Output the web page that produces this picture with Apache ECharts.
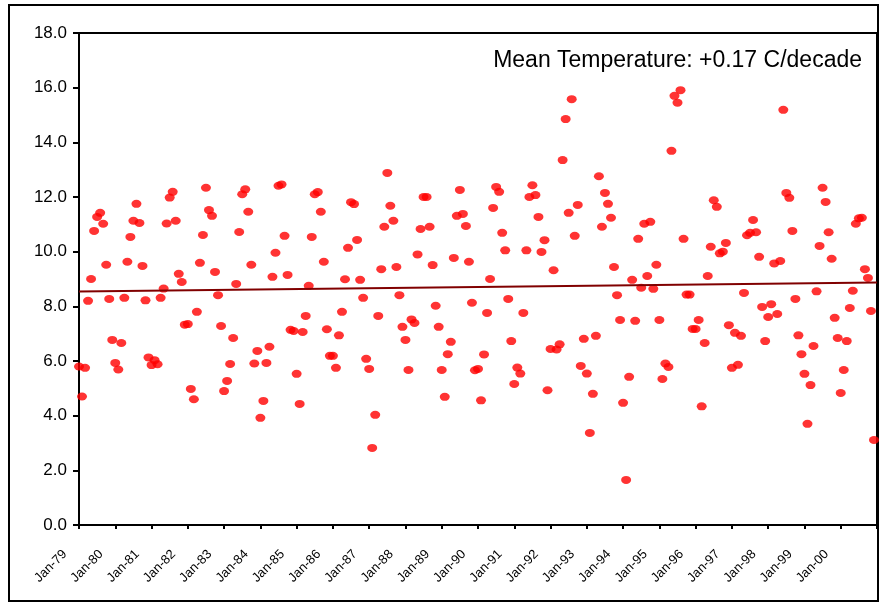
<!DOCTYPE html>
<html>
<head>
<meta charset="utf-8">
<script src="https://cdn.jsdelivr.net/npm/echarts@6/dist/echarts.min.js"></script>
<style>html,body{margin:0;padding:0;background:#fff}#c{width:883px;height:604px}</style>
</head>
<body>
<div id="c"></div>
<script>
// Tick labels (one per January)
var tickLabels = ['Jan-79','Jan-80','Jan-81','Jan-82','Jan-83','Jan-84','Jan-85','Jan-86','Jan-87','Jan-88','Jan-89',
  'Jan-90','Jan-91','Jan-92','Jan-93','Jan-94','Jan-95','Jan-96','Jan-97','Jan-98','Jan-99','Jan-00'];
// Monthly mean temperature, Jan-79 .. Dec-00
var temps79_84 = [5.8,4.7,5.75,8.2,9.0,10.76,11.27,11.42,11.02,9.52,8.27,6.77,
  5.93,5.69,6.66,8.31,9.63,10.54,11.13,11.75,11.05,9.48,8.22,6.13,
  5.85,6.03,5.88,8.31,8.65,11.03,11.98,12.19,11.13,9.19,8.89,7.33,
  7.35,4.98,4.6,7.8,9.59,10.61,12.34,11.52,11.31,9.26,8.41,7.28,
  4.9,5.27,5.89,6.84,8.82,10.72,12.1,12.28,11.46,9.52,5.91,6.37];
var temps84_89 = [3.92,4.54,5.93,6.52,9.08,9.96,12.41,12.46,10.58,9.15,7.14,7.1,
  5.53,4.43,7.06,7.65,8.75,10.54,12.1,12.18,11.46,9.63,7.16,6.19,
  6.19,5.75,6.94,7.8,8.99,10.14,11.81,11.74,10.43,8.97,8.31,6.08,
  5.71,2.82,4.03,7.65,9.36,10.91,12.88,11.68,11.13,9.44,8.41,7.25,
  6.77,5.67,7.52,7.39,9.9,10.83,12.0,12.0,10.91,9.51,8.02,7.25];
var temps89_94 = [5.67,4.69,6.25,6.7,9.77,11.31,12.26,11.38,10.94,9.63,8.13,5.66,
  5.71,4.56,6.24,7.76,9.0,11.6,12.37,12.19,10.69,10.05,8.27,6.73,
  5.16,5.76,5.54,7.76,10.05,12.0,12.43,12.07,11.27,9.99,10.42,4.93,
  6.44,9.32,6.42,6.61,13.35,14.85,11.42,15.58,10.58,11.71,5.82,6.81,
  5.54,3.37,4.8,6.92,12.76,10.91,12.15,11.75,11.24,9.44,8.41,7.5];
var temps94_00 = [4.47,1.65,5.42,8.97,7.47,10.47,8.68,11.02,9.11,11.09,8.64,9.52,
  7.5,5.34,5.91,5.78,13.69,15.7,15.45,15.91,10.47,8.43,8.43,7.17,
  7.17,7.5,4.34,6.66,9.11,10.18,11.88,11.64,9.94,10.0,10.32,7.31,
  5.75,7.03,5.86,6.92,8.49,10.6,10.69,11.16,10.71,9.81,7.98,6.73,
  7.61,8.08,9.57,7.72,9.66,15.19,12.15,11.97,10.76,8.27,6.94,6.25,
  5.53,3.7,5.12,6.55,8.55,10.21,12.34,11.82,10.71,9.74,7.58,6.84,
  4.83,5.67,6.73,7.94,8.57,11.02,11.22,11.24,9.36,9.04,7.83,3.11];
var temps = temps79_84.concat(temps84_89, temps89_94, temps94_00);
// Linear trend end values
var trendStart = 8.54;
var trendEnd = 8.87;
var annotation = 'Mean Temperature: +0.17 C/decade';

var nMonths = tickLabels.length * 12;
var chart = echarts.init(document.getElementById('c'), null, {renderer: 'canvas'});
var font = 'Liberation Sans, Arial, sans-serif';
chart.setOption({
  animation: false,
  backgroundColor: '#fff',
  grid: {left: 79, top: 33, right: 6, bottom: 79, show: true, borderColor: '#000', borderWidth: 2},
  xAxis: {
    type: 'value', min: 0, max: nMonths, interval: 12,
    axisLine: {onZero: false, lineStyle: {color: '#000', width: 2}},
    axisTick: {show: true, length: 4, lineStyle: {color: '#000', width: 2}},
    splitLine: {show: false},
    axisLabel: {
      rotate: 45, margin: 13, color: '#000', fontFamily: font, fontSize: 13,
      padding: [0, 20, 0, 0], showMaxLabel: true,
      formatter: function (v) { var k = Math.round(v / 12); return k < tickLabels.length ? tickLabels[k] : ''; }
    }
  },
  yAxis: {
    type: 'value', min: 0, max: 18, interval: 2,
    axisLine: {show: true, lineStyle: {color: '#000', width: 2}},
    axisTick: {show: true, length: 6, lineStyle: {color: '#000', width: 2}},
    splitLine: {show: false},
    axisLabel: {margin: 12, color: '#000', fontFamily: font, fontSize: 17,
      formatter: function (v) { return v.toFixed(1); }}
  },
  series: [
    {
      type: 'scatter', symbol: 'circle', symbolSize: [10, 8],
      itemStyle: {color: '#ff0000'},
      data: temps.map(function (v, i) { return [i, v]; }),
      z: 3
    },
    {
      type: 'line', showSymbol: false, symbol: 'none',
      lineStyle: {color: '#800000', width: 2},
      data: [[0, trendStart], [nMonths, trendEnd]],
      z: 4
    }
  ],
  graphic: [
    {type: 'rect', shape: {x: 9, y: 5, width: 869, height: 596}, style: {fill: 'none', stroke: '#000', lineWidth: 2}, silent: true},
    {type: 'text', x: 862, y: 61, style: {text: annotation, fill: '#000', font: '23px ' + font, textAlign: 'right', textVerticalAlign: 'middle'}}
  ]
});
</script>
</body>
</html>
